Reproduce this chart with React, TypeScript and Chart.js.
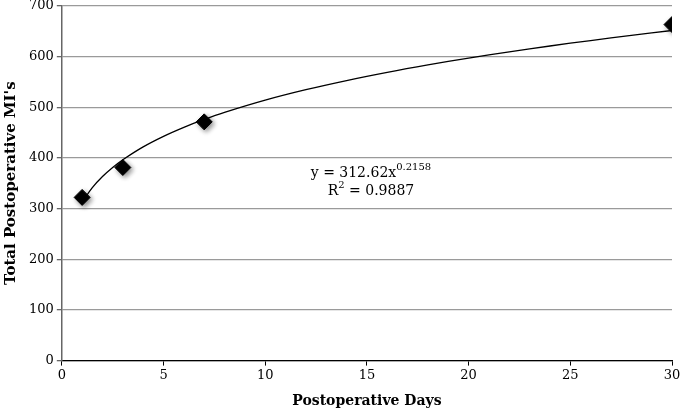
import React, { useEffect, useRef } from "react";
import { Chart, registerables } from "chart.js";

Chart.register(...registerables);

const days = [1, 3, 7, 30];
const totalMIs = [322, 381, 471, 663];
const trendCoef = 312.62;
const trendExp = 0.2158;
const rSquared = "0.9887";
const trendX = [1, 1.5, 2, 2.5, 3, 4, 5, 6, 7, 8, 10, 12, 14, 16, 18, 20, 22, 24, 26, 28, 30];

const serif = "'DejaVu Serif', 'Liberation Serif', serif";

export default function App() {
  const ref = useRef<HTMLCanvasElement>(null);
  useEffect(() => {
    document.body.style.margin = "0";
    document.body.style.overflow = "hidden";
    const trend = trendX.map((x) => ({ x, y: trendCoef * Math.pow(x, trendExp) }));
    const pts = days.map((d, i) => ({ x: d, y: totalMIs[i] }));

    const shadowPlugin = {
      id: "shadow",
      beforeDatasetDraw(chart: any, args: any) {
        if (args.index === 1) {
          chart.ctx.save();
          chart.ctx.shadowColor = "rgba(0,0,0,0.45)";
          chart.ctx.shadowBlur = 5;
          chart.ctx.shadowOffsetX = 2;
          chart.ctx.shadowOffsetY = 2;
        }
      },
      afterDatasetDraw(chart: any, args: any) {
        if (args.index === 1) chart.ctx.restore();
      },
    };

    const eqPlugin = {
      id: "eq",
      afterDatasetsDraw(chart: any) {
        const { ctx, scales } = chart;
        const cx = scales.x.getPixelForValue(15.2);
        const y1 = scales.y.getPixelForValue(372);
        const y2 = scales.y.getPixelForValue(336);
        ctx.save();
        ctx.fillStyle = "#000";
        ctx.textBaseline = "alphabetic";
        const big = `14px ${serif}`;
        const small = `10px ${serif}`;
        const a = `y = ${trendCoef}x`;
        const b = `${trendExp}`;
        ctx.font = big;
        const wa = ctx.measureText(a).width;
        ctx.font = small;
        const wb = ctx.measureText(b).width;
        let x0 = cx - (wa + wb) / 2;
        ctx.font = big;
        ctx.fillText(a, x0, y1 + 5);
        ctx.font = small;
        ctx.fillText(b, x0 + wa, y1 - 2);
        const c = "R";
        const d = "2";
        const e = ` = ${rSquared}`;
        ctx.font = big;
        const wc = ctx.measureText(c).width;
        const we = ctx.measureText(e).width;
        ctx.font = small;
        const wd = ctx.measureText(d).width;
        x0 = cx - (wc + wd + we) / 2;
        ctx.font = big;
        ctx.fillText(c, x0, y2 + 5);
        ctx.font = small;
        ctx.fillText(d, x0 + wc, y2 - 2);
        ctx.font = big;
        ctx.fillText(e, x0 + wc + wd, y2 + 5);
        ctx.restore();
      },
    };

    const chart = new Chart(ref.current!, {
      type: "scatter",
      data: {
        datasets: [
          {
            data: trend,
            showLine: true,
            borderColor: "#000",
            borderWidth: 1.3,
            pointRadius: 0,
            tension: 0.4,
          },
          {
            data: pts,
            pointStyle: "rectRot",
            pointRadius: 8,
            backgroundColor: "#000",
            borderColor: "#000",
          },
        ],
      },
      options: {
        animation: false,
        responsive: false,
        layout: { padding: { top: 0, right: 13, bottom: 2, left: 2 } },
        plugins: { legend: { display: false }, tooltip: { enabled: false } },
        scales: {
          x: {
            type: "linear",
            min: 0,
            max: 30,
            ticks: { stepSize: 5, color: "#000", font: { family: serif, size: 13 }, padding: 2 },
            grid: { drawOnChartArea: false, drawTicks: true, tickLength: 5, color: "#000" },
            border: { color: "#000", width: 1.3 },
            title: {
              display: true,
              text: "Postoperative Days",
              color: "#000",
              font: { family: serif, size: 14, weight: "bold" },
              padding: { top: 8, bottom: 0 },
            },
          },
          y: {
            min: 0,
            max: 700,
            ticks: { stepSize: 100, color: "#000", font: { family: serif, size: 13 }, padding: 3 },
            grid: { color: "#9a9a9a", lineWidth: 1.3, tickLength: 5, tickColor: "#666" },
            border: { color: "#666", width: 1.5 },
            title: {
              display: true,
              text: "Total Postoperative MI's",
              color: "#000",
              font: { family: serif, size: 15, weight: "bold" },
              padding: { top: 0, bottom: 6 },
            },
          },
        },
      },
      plugins: [shadowPlugin, eqPlugin],
    });
    return () => chart.destroy();
  }, []);
  return (
    <div style={{ position: "absolute", left: 0, top: -5 }}>
      <canvas ref={ref} width={685} height={417} />
    </div>
  );
}
